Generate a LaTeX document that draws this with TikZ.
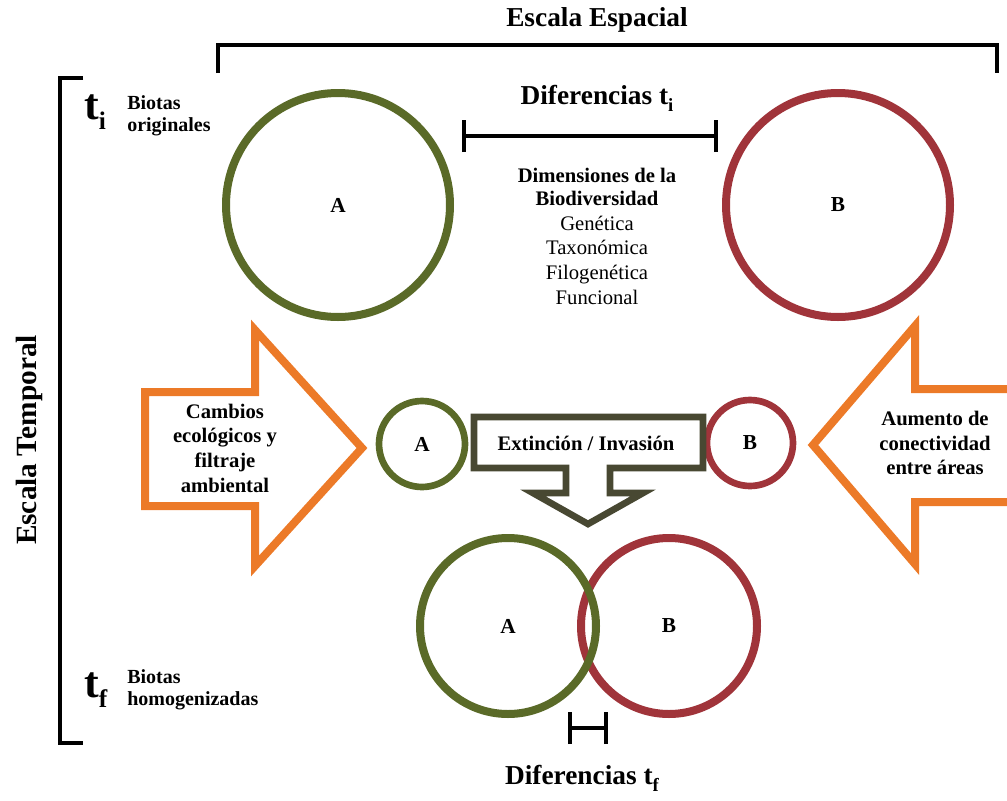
\documentclass[tikz,border=0pt]{standalone}
\usepackage{fontspec}
\setmainfont{Liberation Serif}
\definecolor{cgreen}{RGB}{90,106,40}
\definecolor{cred}{RGB}{160,52,58}
\definecolor{corange}{RGB}{236,122,40}
\definecolor{cdark}{RGB}{72,72,50}
\newcommand{\fs}[2]{\fontsize{#1}{#2}\selectfont}
\begin{document}
\begin{tikzpicture}[x=0.75pt,y=-0.75pt,
  bigA/.style={circle,draw=cgreen,line width=6pt,minimum size=224*0.75pt,inner sep=0pt,font=\fs{16}{18}\bfseries},
  bigB/.style={circle,draw=cred,line width=6pt,minimum size=224*0.75pt,inner sep=0pt,font=\fs{16}{18}\bfseries},
  smallA/.style={circle,draw=cgreen,line width=5pt,minimum size=86*0.75pt,inner sep=0pt,font=\fs{16}{18}\bfseries},
  smallB/.style={circle,draw=cred,line width=5pt,minimum size=86*0.75pt,inner sep=0pt,font=\fs{16}{18}\bfseries},
  midA/.style={circle,draw=cgreen,line width=6pt,minimum size=176*0.75pt,inner sep=0pt,font=\fs{16}{18}\bfseries},
  midB/.style={circle,draw=cred,line width=6pt,minimum size=176*0.75pt,inner sep=0pt,font=\fs{16}{18}\bfseries},
  bracket/.style={draw=black,line width=3pt},
  orangearrow/.style={draw=corange,line width=6pt,line join=miter},
  title/.style={inner sep=0pt,font=\fs{20.5}{22}\bfseries},
  side/.style={inner sep=0pt,align=center,font=\fs{15.5}{18.5}\bfseries},
  biota/.style={inner sep=0pt,align=left,font=\fs{15}{16.5}\bfseries}
]
\useasboundingbox (0,0) rectangle (1007,800);
\clip (0,0) rectangle (1007,800);

% brackets
\draw[bracket] (218,73) -- (218,45) -- (997,45) -- (997,73);
\draw[bracket] (83,78) -- (60,78) -- (60,743) -- (83,743);
\node[title] (esp) at (597,20) {Escala Espacial};
\node[title,rotate=90,font=\fs{22}{24}\bfseries] (temp) at (29,440) {Escala Temporal};

% time labels
\node[inner sep=0pt,anchor=west] (ti) at (84,112) {\fs{33}{33}\bfseries t\raisebox{-0.22em}{\fs{19}{19}i}};
\node[biota,anchor=west] (bo) at (127,116) {Biotas\\originales};
\node[inner sep=0pt,anchor=west] (tf) at (84,690) {\fs{33}{33}\bfseries t\raisebox{-0.22em}{\fs{19}{19}f}};
\node[biota,anchor=west] (bh) at (127,690) {Biotas\\homogenizadas};

% top circles
\node[bigA] (A1) at (338,205) {A};
\node[bigB] (B1) at (838,205) {B};

% differences ti
\node[title] (dti) at (597,98) {Diferencias t\raisebox{-0.25em}{\fs{14}{14}i}};
\coordinate (d1) at (464,136);
\coordinate (d2) at (716,136);
\draw[bracket] (d1) -- (d2);
\draw[bracket] ([yshift=-16*0.75pt]d1) -- ([yshift=16*0.75pt]d1);
\draw[bracket] ([yshift=-16*0.75pt]d2) -- ([yshift=16*0.75pt]d2);

\node[inner sep=0pt,align=center,font=\fs{15.5}{18.5}] (dim) at (597,236)
  {\textbf{Dimensiones de la}\\[-1pt]\textbf{Biodiversidad}\\Genética\\Taxonómica\\Filogenética\\Funcional};

% orange arrows
\draw[orangearrow] (145,392) -- (255,392) -- (255,330) -- (362,448) -- (255,566) -- (255,506) -- (145,506) -- cycle;
\node[side] (cam) at (225,448) {Cambios\\ecológicos y\\filtraje\\ambiental};
\draw[orangearrow] (1012,389) -- (915,389) -- (915,326) -- (813,445) -- (915,564) -- (915,502) -- (1012,502);
\node[side] (aum) at (935,443) {Aumento de\\conectividad\\entre áreas};

% small circles
\node[smallA] (A2) at (422,444) {A};
\node[smallB] (B2) at (750,443) {B};

% extinction callout
\draw[draw=cdark,line width=5pt,line join=miter,fill=white]
  (474,417) -- (703,417) -- (703,468) -- (610,468) -- (610,493) -- (643,493) -- (588,524)
  -- (533,493) -- (566,493) -- (566,468) -- (474,468) -- cycle;
\node[inner sep=0pt,font=\fs{15.5}{18}\bfseries] (ext) at (586,443) {Extinción / Invasión};

% bottom circles
\node[midB] (B3) at (669,626) {B};
\node[midA] (A3) at (508,626) {A};

% differences tf
\coordinate (e1) at (570,728);
\coordinate (e2) at (606,728);
\draw[bracket] (e1) -- (e2);
\draw[bracket] ([yshift=-16*0.75pt]e1) -- ([yshift=16*0.75pt]e1);
\draw[bracket] ([yshift=-16*0.75pt]e2) -- ([yshift=16*0.75pt]e2);
\node[title] (dtf) at (582,778) {Diferencias t\raisebox{-0.25em}{\fs{14}{14}f}};
\end{tikzpicture}
\end{document}
